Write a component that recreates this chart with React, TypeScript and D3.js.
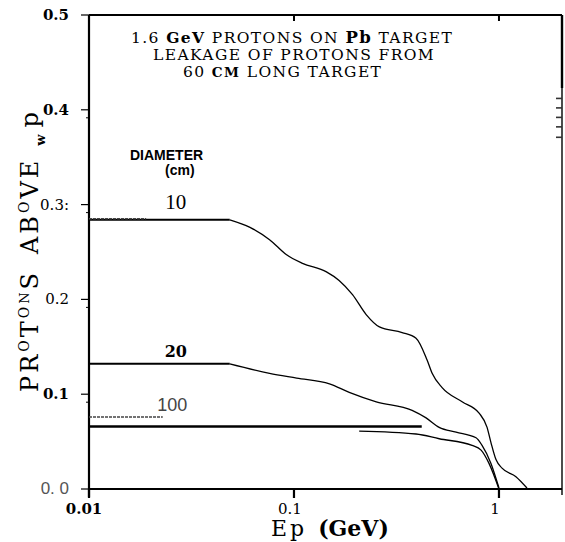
import * as d3 from "d3";

// curve data: energy (GeV) vs fraction of protons above Ep
const diameters = ["10", "20", "100"];

const plateauStart = [0.01, 0.01, 0.01];
const plateauEnd = [0.0486, 0.0486, 0.42];
const plateauValue = [0.284, 0.132, 0.066];

const tail10E = [0.0486, 0.061, 0.076, 0.092, 0.11, 0.144, 0.166, 0.193, 0.225, 0.261, 0.337, 0.394, 0.446, 0.472, 0.528, 0.661, 0.8, 0.875, 0.914, 0.967, 1.035, 1.21, 1.37];
const tail10V = [0.284, 0.276, 0.263, 0.247, 0.238, 0.229, 0.22, 0.205, 0.184, 0.171, 0.165, 0.159, 0.136, 0.122, 0.107, 0.092, 0.08, 0.065, 0.049, 0.031, 0.022, 0.013, 0.001];

const tail20E = [0.0486, 0.076, 0.103, 0.149, 0.186, 0.252, 0.377, 0.441, 0.511, 0.618, 0.773, 0.827, 0.914, 1.0];
const tail20V = [0.132, 0.122, 0.117, 0.111, 0.102, 0.092, 0.083, 0.075, 0.065, 0.06, 0.054, 0.046, 0.027, 0.001];

const tail100E = [0.208, 0.394, 0.511, 0.739, 0.818, 0.894, 1.0];
const tail100V = [0.061, 0.058, 0.053, 0.046, 0.041, 0.027, 0.0];

// short dotted stubs next to the labels (scan residue)
const stubEnd = [0.019, 0.0229];
const stubValue = [0.285, 0.076];

const labelE = [0.0265, 0.0265, 0.0255];
const labelV = [0.295, 0.139, 0.082];

const yTicks = [0.0, 0.1, 0.2, 0.3, 0.4, 0.5];
const yTickLabels = ["0. 0", "0.1", "0.2", "0.3:", "0.4", "0.5"];
const xTicks = [0.01, 0.1, 1];
const xTickLabels = ["0.01", "0.1", "1"];
const rightTicks = [0.412, 0.402, 0.392, 0.382, 0.371];

const W = 565;
const H = 542;
const left = 89;
const right = 562;
const top = 15;
const bottom = 489;

const serif = "'DejaVu Serif', serif";
const sans = "'Liberation Sans', Arial, sans-serif";

export default function App() {
  const x = d3.scaleLog().domain([0.01, 2.03]).range([left, right]);
  const y = d3.scaleLinear().domain([0, 0.5]).range([bottom, top]);

  const line = d3
    .line<[number, number]>()
    .x((d) => x(d[0]))
    .y((d) => y(d[1]))
    .curve(d3.curveMonotoneX);

  const tails = [
    tail10E.map((e, i) => [e, tail10V[i]] as [number, number]),
    tail20E.map((e, i) => [e, tail20V[i]] as [number, number]),
    tail100E.map((e, i) => [e, tail100V[i]] as [number, number]),
  ];

  const yLabelBold = [false, true, false, false, true, true];

  return (
    <svg
      width={W}
      height={H}
      style={{ position: "absolute", left: 0, top: 0, background: "#fff" }}
    >
      {/* frame */}
      <g stroke="#000" fill="none">
        <line x1={left} x2={right} y1={top} y2={top} strokeWidth={2.2} />
        <line x1={left} x2={left} y1={top} y2={bottom + 8} strokeWidth={2.2} />
        <line x1={left} x2={right} y1={bottom} y2={bottom} strokeWidth={2.2} />
        <line x1={right} x2={right} y1={top} y2={88} strokeWidth={2.4} />
        <line x1={right} x2={right} y1={88} y2={bottom + 6} strokeWidth={1.4} />
      </g>

      {/* y ticks */}
      {yTicks.map((t, i) => (
        <g key={"yt" + i}>
          <line x1={left - 8} x2={left} y1={y(t)} y2={y(t)} stroke="#000" strokeWidth={1.2} />
          {t > 0 && t < 0.5 && (
            <line x1={left - 3} x2={left} y1={y(t) + 8} y2={y(t) + 8} stroke="#000" strokeWidth={1} />
          )}
          <text
            x={left - 20}
            y={y(t) + 5}
            textAnchor="end"
            fontFamily={i === 0 ? sans : serif}
            fontWeight={yLabelBold[i] ? "bold" : "normal"}
            fontSize={i === 0 ? 17 : 15}
            fill={i === 0 ? "#555" : "#000"}
          >
            {yTickLabels[i]}
          </text>
        </g>
      ))}

      {/* right-side ticks */}
      {rightTicks.map((t, i) => (
        <line key={"rt" + i} x1={right - 6} x2={right} y1={y(t)} y2={y(t)} stroke="#333" strokeWidth={1.6} />
      ))}

      {/* x ticks */}
      {xTicks.map((t, i) => (
        <g key={"xt" + i}>
          <line x1={x(t)} x2={x(t)} y1={bottom} y2={bottom + 9} stroke="#000" strokeWidth={2.2} />
          {t > 0.01 && (
            <line x1={x(t)} x2={x(t)} y1={top} y2={top + 6} stroke="#000" strokeWidth={2} />
          )}
          <text
            x={x(t) - (i === 0 ? 5 : 4)}
            y={bottom + 25}
            textAnchor="middle"
            fontFamily={serif}
            fontWeight={i === 0 ? "bold" : "normal"}
            fontSize={15}
          >
            {xTickLabels[i]}
          </text>
        </g>
      ))}

      {/* plateaus */}
      {plateauValue.map((v, i) => (
        <line
          key={"pl" + i}
          x1={x(plateauStart[i])}
          x2={x(plateauEnd[i])}
          y1={y(v)}
          y2={y(v)}
          stroke="#000"
          strokeWidth={i === 2 ? 2.4 : 2}
        />
      ))}

      {/* dotted stubs */}
      {stubValue.map((v, i) => (
        <line
          key={"st" + i}
          x1={x(0.01)}
          x2={x(stubEnd[i])}
          y1={y(v)}
          y2={y(v)}
          stroke="#444"
          strokeWidth={1.6}
          strokeDasharray="3,1"
        />
      ))}

      {/* falling curves */}
      {tails.map((d, i) => (
        <path key={"tl" + i} d={line(d) ?? ""} fill="none" stroke="#000" strokeWidth={1.3} />
      ))}

      {/* curve labels */}
      <text x={x(labelE[0])} y={y(labelV[0])} textAnchor="middle" fontFamily="'Liberation Serif', serif" fontSize={21}>
        {diameters[0]}
      </text>
      <text x={x(labelE[1])} y={y(labelV[1])} textAnchor="middle" fontFamily={serif} fontWeight="bold" fontSize={16}>
        {diameters[1]}
      </text>
      <text x={x(labelE[2])} y={y(labelV[2])} textAnchor="middle" fontFamily={sans} fontSize={18} fill="#444">
        {diameters[2]}
      </text>

      <text x={130} y={160} fontFamily={sans} fontWeight="bold" fontSize={14}>
        DIAMETER
      </text>
      <text x={165} y={175} fontFamily={sans} fontWeight="bold" fontSize={14}>
        (cm)
      </text>

      {/* title */}
      <g fontFamily={serif} fontSize={15.5} letterSpacing={1.4}>
        <text x={131} y={43}>
          1.6 <tspan fontWeight="bold">GeV</tspan> PROTONS ON{" "}
          <tspan fontWeight="bold" fontSize={16.5}>Pb</tspan> TARGET
        </text>
        <text x={153} y={60}>LEAKAGE OF PROTONS FROM</text>
        <text x={183} y={77}>
          60 <tspan fontWeight="bold" fontSize={13.5}>CM</tspan>  LONG TARGET
        </text>
      </g>

      {/* x axis title */}
      <text x={271} y={536} fontFamily={serif} fontSize={22}>
        E<tspan dx={3}>p</tspan>
        <tspan dx={14} fontWeight="bold">(GeV)</tspan>
      </text>

      {/* y axis title */}
      <text
        transform={`translate(38, 392) rotate(-90)`}
        fontFamily={serif}
        fontSize={24}
        letterSpacing={3}
      >
        PR<tspan fontSize={14} dy={-9}>O</tspan>
        <tspan dy={9}>T</tspan>
        <tspan fontSize={14} dy={-9}>O</tspan>
        <tspan fontSize={13} dy={0}>N</tspan>
        <tspan dy={9}>S</tspan>
        <tspan dx={16}>AB</tspan>
        <tspan fontSize={14} dy={-9}>O</tspan>
        <tspan dy={9}>VE</tspan>
        <tspan dx={12} fontSize={13} fontWeight="bold" dy={7}>w</tspan>
        <tspan dy={-7} dx={4}>p</tspan>
      </text>
    </svg>
  );
}
